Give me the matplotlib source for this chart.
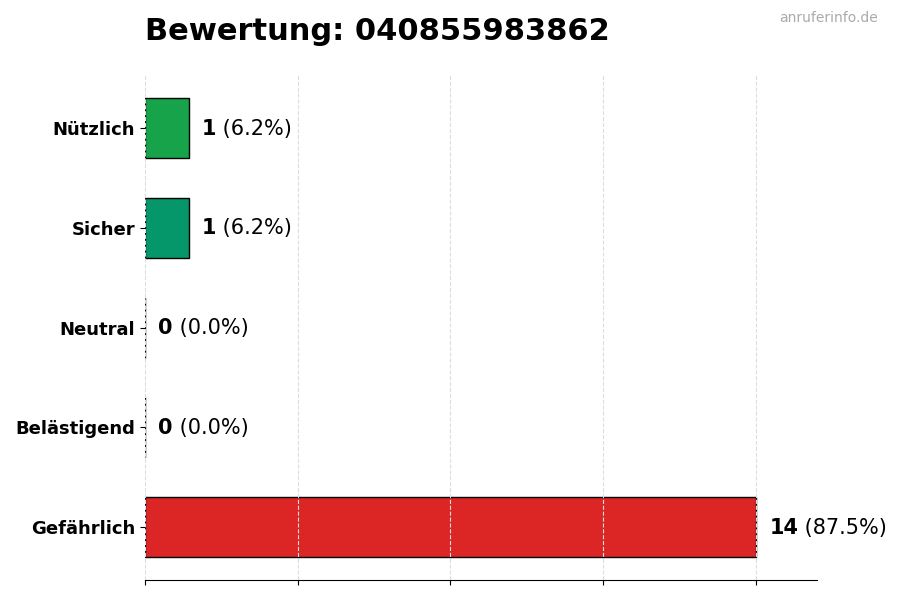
import matplotlib
matplotlib.use("Agg")
import matplotlib.pyplot as plt

categories = ["Nützlich", "Sicher", "Neutral", "Belästigend", "Gefährlich"]
values = [1, 1, 0, 0, 14]
colors = ["#16a34a", "#059669", "#6b7280", "#f59e0b", "#dc2626"]
title = "Bewertung: 040855983862"
watermark = "anruferinfo.de"

total = sum(values)
fig = plt.figure(figsize=(9, 6), dpi=100)
ax = fig.add_axes([0.161, 0.033, 0.747, 0.842])

ypos = list(range(len(categories)))[::-1]
ax.barh(ypos, values, height=0.6, color=colors, edgecolor="black", linewidth=1, zorder=2)
ax.set_yticks(ypos)
ax.set_yticklabels(categories, fontsize=13, fontweight="bold")
xmax = max(values) * 1.1
ax.set_xlim(0, xmax)
ax.set_xticks([max(values) * i / 4 for i in range(5)])
ax.set_xticklabels([])
ax.grid(axis="x", linestyle="--", color="#dddddd", linewidth=0.8, zorder=3)
ax.set_axisbelow(False)
for s in ["top", "right", "left"]:
    ax.spines[s].set_visible(False)

for y, v in zip(ypos, values):
    pct = v / total * 100
    t1 = ax.annotate(f"{v}", xy=(v, y), xytext=(9.5, -0.5), textcoords="offset points",
                     va="center", ha="left", fontsize=15, fontweight="bold")
    ax.annotate(f" ({pct:.1f}%)", xy=(1, 0), xycoords=t1, xytext=(0, 0),
                textcoords="offset points", va="bottom", ha="left", fontsize=15)

fig.text(0.161, 0.948, title, fontsize=22, fontweight="bold", ha="left", va="center")
fig.text(0.975, 0.97, watermark, fontsize=10, color="#aaaaaa", ha="right", va="center")

fig.savefig("out.png", dpi=100)
